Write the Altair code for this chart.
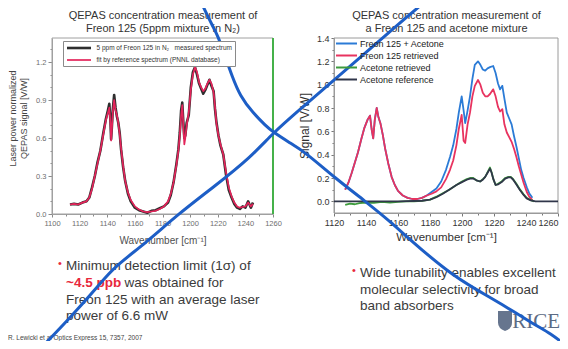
import altair as alt
import pandas as pd

FONT = "Liberation Sans"
W, H = 552, 333

# ---------------- left chart: Freon 125 (5 ppm in N2) ----------------
left_w = [1113, 1116, 1119, 1122, 1125, 1127, 1129, 1131, 1133, 1135, 1137, 1139, 1140.5, 1141.5, 1142.3,
          1142.8, 1143.3, 1144, 1145, 1146, 1147, 1148, 1149, 1150, 1151.5, 1153, 1155, 1157, 1160, 1163,
          1166, 1169, 1172, 1175, 1178, 1181, 1184, 1186, 1188, 1190, 1191.5, 1192.5, 1193.5, 1194.3, 1195,
          1195.8, 1196.5, 1197.5, 1199, 1200.5, 1202, 1203.5, 1205, 1206.5, 1208, 1209.5, 1211, 1212.5, 1214,
          1215.5, 1217, 1218, 1219, 1220.5, 1222, 1224, 1226, 1228, 1230, 1232, 1234, 1236, 1238, 1240, 1242,
          1244, 1245.5]
left_fit = [0.075, 0.08, 0.075, 0.09, 0.10, 0.13, 0.20, 0.30, 0.40, 0.50, 0.62, 0.74, 0.80, 0.84, 0.72,
            0.58, 0.66, 0.80, 0.90, 0.82, 0.78, 0.72, 0.63, 0.52, 0.38, 0.26, 0.17, 0.11, 0.06, 0.035,
            0.02, 0.015, 0.02, 0.025, 0.04, 0.06, 0.10, 0.16, 0.25, 0.38, 0.50, 0.62, 0.78, 0.86, 0.72,
            0.55, 0.60, 0.70, 0.80, 0.98, 1.10, 1.16, 1.12, 1.04, 1.00, 0.97, 0.99, 1.03, 1.06, 1.03,
            0.96, 0.85, 0.72, 0.62, 0.55, 0.47, 0.33, 0.21, 0.14, 0.09, 0.06, 0.05, 0.055, 0.06, 0.09,
            0.06, 0.08]
left_meas = [0.075, 0.08, 0.075, 0.09, 0.10, 0.13, 0.21, 0.30, 0.41, 0.50, 0.63, 0.75, 0.82, 0.87, 0.74,
             0.59, 0.68, 0.82, 0.94, 0.84, 0.77, 0.72, 0.64, 0.51, 0.37, 0.26, 0.16, 0.10, 0.05, 0.03,
             0.02, 0.01, 0.025, 0.03, 0.045, 0.06, 0.09, 0.15, 0.25, 0.39, 0.51, 0.64, 0.82, 0.88, 0.74,
             0.60, 0.62, 0.72, 0.78, 1.00, 1.12, 1.16, 1.10, 1.03, 0.99, 0.95, 0.98, 1.02, 1.06, 1.01,
             0.97, 0.83, 0.73, 0.62, 0.54, 0.47, 0.31, 0.19, 0.13, 0.08, 0.05, 0.04, 0.06, 0.05, 0.10,
             0.05, 0.09]
left_series = ["5 ppm of Freon 125 in N\u2082\u00a0\u00a0\u00a0measured spectrum",
               "fit by reference spectrum (PNNL database)"]
left_colors = ["#2e2e2e", "#e3245a"]
left_x_domain = [1100, 1260]
left_y_domain = [0, 1.39]
left_x_ticks = [1100, 1120, 1140, 1160, 1180, 1200, 1220, 1240, 1260]
left_x_minor = [1110, 1130, 1150, 1170, 1190, 1210, 1230, 1250]
left_y_ticks = [0.0, 0.3, 0.6, 0.9, 1.2]
left_y_minor = [0.1, 0.2, 0.4, 0.5, 0.7, 0.8, 1.0, 1.1, 1.3]
left_title = ["QEPAS concentration measurement of", "Freon 125 (5ppm mixture in N\u2082)"]
left_y_title = ["Laser power normalized", "QEPAS signal [V/W]"]

# ---------------- right chart: Freon 125 + acetone ----------------
right_fa_w = [1127, 1129, 1131, 1133, 1135, 1137, 1139, 1141, 1142.5, 1143.5, 1144.5, 1145.5, 1146.7, 1147.8,
              1149, 1150.5, 1152, 1154, 1156, 1158, 1160, 1163, 1166, 1169, 1172, 1175, 1178, 1181, 1184,
              1187, 1190, 1192.5, 1194.5, 1196.5, 1198, 1199.8, 1201, 1202, 1203.5, 1205, 1206.5, 1208, 1210,
              1211.5, 1213, 1214.5, 1216, 1217.5, 1219.5, 1221, 1222.5, 1223.8, 1225.2, 1226.5, 1228, 1229.5,
              1231, 1232.5, 1234, 1235.5, 1237, 1238.5, 1240.5, 1242, 1244]
right_mix = [0.10, 0.16, 0.24, 0.33, 0.42, 0.53, 0.63, 0.70, 0.735, 0.62, 0.54, 0.70, 0.80, 0.72, 0.67,
             0.57, 0.45, 0.32, 0.21, 0.14, 0.09, 0.05, 0.03, 0.02, 0.02, 0.03, 0.05, 0.08, 0.11, 0.17,
             0.27, 0.38, 0.48, 0.62, 0.76, 0.90, 0.78, 0.67, 0.78, 0.90, 1.05, 1.17, 1.20, 1.17, 1.13,
             1.12, 1.14, 1.15, 1.16, 1.10, 1.01, 0.96, 0.99, 0.88, 0.76, 0.71, 0.66, 0.56, 0.47, 0.37,
             0.27, 0.20, 0.12, 0.07, 0.03]
right_freon = [0.10, 0.16, 0.24, 0.33, 0.42, 0.53, 0.63, 0.70, 0.735, 0.62, 0.54, 0.70, 0.80, 0.72, 0.67,
               0.57, 0.45, 0.32, 0.21, 0.14, 0.09, 0.05, 0.03, 0.02, 0.02, 0.03, 0.05, 0.065, 0.085, 0.12,
               0.19, 0.27, 0.35, 0.48, 0.62, 0.74, 0.52, 0.50, 0.66, 0.76, 0.90, 0.99, 1.04, 1.00, 0.93,
               0.90, 0.90, 0.92, 0.96, 0.90, 0.81, 0.77, 0.79, 0.66, 0.59, 0.55, 0.51, 0.45, 0.38, 0.30,
               0.23, 0.16, 0.08, 0.04, 0.01]
right_acr_w = [1127, 1130, 1133, 1136, 1140, 1145, 1150, 1155, 1160, 1165, 1170, 1175, 1180, 1184, 1188,
               1192, 1196.5, 1200, 1203, 1205, 1207, 1209, 1211.3, 1213, 1214.5, 1216, 1217.5, 1218.5, 1219.6,
               1221, 1222.5, 1224.8, 1227, 1229, 1230.5, 1232, 1234, 1236.3, 1238.5, 1240.4, 1243, 1245]
right_acetone_ret = [-0.03, -0.02, -0.025, -0.015, -0.01, -0.012, -0.005, -0.01, -0.004, 0.0, 0.0, 0.005,
                     0.015, 0.04, 0.07, 0.10, 0.14, 0.17, 0.19, 0.20, 0.20, 0.18, 0.17, 0.19, 0.21, 0.25,
                     0.29, 0.25, 0.19, 0.14, 0.15, 0.17, 0.20, 0.21, 0.21, 0.19, 0.15, 0.10, 0.06, 0.03,
                     0.01, 0.0]
right_ref_w = [1120, 1127, 1140, 1160, 1175, 1180, 1184, 1188, 1192, 1196.5, 1200, 1203, 1205, 1207, 1209,
               1211.3, 1213, 1214.5, 1216, 1217.5, 1218.5, 1219.6, 1221, 1222.5, 1224.8, 1227, 1229, 1230.5,
               1232, 1234, 1236.3, 1238.5, 1240.4, 1243, 1246, 1250, 1260]
right_acetone_ref = [0.0, 0.0, 0.0, 0.0, 0.005, 0.015, 0.035, 0.065, 0.10, 0.14, 0.165, 0.185, 0.195, 0.195,
                     0.18, 0.17, 0.185, 0.21, 0.245, 0.28, 0.245, 0.19, 0.14, 0.145, 0.165, 0.195, 0.205,
                     0.205, 0.185, 0.145, 0.095, 0.055, 0.025, 0.008, 0.0, 0.0, 0.0]
right_series = ["Freon 125 + Acetone", "Freon 125 retrieved", "Acetone retrieved", "Acetone reference"]
right_colors = ["#2b7bd6", "#e8335f", "#3d9b3d", "#30364a"]
right_x_domain = [1120, 1260]
right_y_domain = [-0.1, 1.4]
right_x_ticks = [1120, 1140, 1160, 1180, 1200, 1220, 1240, 1260]
right_x_minor = [1130, 1150, 1170, 1190, 1210, 1230, 1250]
right_y_ticks = [0.0, 0.2, 0.4, 0.6, 0.8, 1.0, 1.2, 1.4]
right_y_minor = [0.1, 0.3, 0.5, 0.7, 0.9, 1.1, 1.3]
right_title = ["QEPAS concentration measurement of", "a Freon 125 and acetone mixture"]
right_y_title = "Signal [V/W]"
x_title = "Wavenumber [cm\u207b\u00b9]"

# ---------------- slide text ----------------
left_bullet_line1 = "Minimum detection limit (1\u03c3) of"
left_bullet_red = "~4.5 ppb"
left_bullet_line2 = "was obtained for"
left_bullet_rest = ["Freon 125 with an average laser", "power of 6.6 mW"]
right_bullet = ["Wide tunability enables excellent", "molecular selectivity for broad", "band absorbers"]
citation = "R. Lewicki et al Optics Express 15, 7357, 2007"
logo_text = "RICE"

# ---------------- hand-drawn blue strokes (slide pixel coordinates) ----------------
stroke_a_x = [200, 213, 218, 225, 232, 240, 253, 266, 273, 290, 305, 335, 365, 392, 408, 449, 477, 500, 535, 550, 568]
stroke_a_y = [0, 27, 36, 56, 76, 96, 113, 126, 132, 143, 152, 178, 201, 223, 238, 273, 290, 303, 325, 333, 347]
stroke_b_x = [40, 70, 100, 113, 147, 177, 215, 251, 273, 297, 327, 362, 395, 427]
stroke_b_y = [349, 318, 284, 268, 242, 215, 186, 157, 133, 112, 86, 56, 27, 0]
slide_size = [568, 349]

# ---------------- tables ----------------
left_df = pd.concat([
    pd.DataFrame({"w": left_w, "v": left_meas, "series": left_series[0]}),
    pd.DataFrame({"w": left_w, "v": left_fit, "series": left_series[1]}),
])
right_df = pd.concat([
    pd.DataFrame({"w": right_fa_w, "v": right_mix, "series": right_series[0]}),
    pd.DataFrame({"w": right_fa_w, "v": right_freon, "series": right_series[1]}),
    pd.DataFrame({"w": right_acr_w, "v": right_acetone_ret, "series": right_series[2]}),
    pd.DataFrame({"w": right_ref_w, "v": right_acetone_ref, "series": right_series[3]}),
])
left_frame_df = pd.DataFrame({"x0": [left_x_domain[0]], "x1": [left_x_domain[1]],
                              "y0": [left_y_domain[0]], "y1": [left_y_domain[1]]})
right_frame_df = pd.DataFrame({"x0": [right_x_domain[0]], "x1": [right_x_domain[1]],
                               "y0": [right_y_domain[0]], "y1": [right_y_domain[1]]})
strokes_df = pd.concat([
    pd.DataFrame({"sx": stroke_a_x, "sy": stroke_a_y, "stroke": "a", "idx": range(len(stroke_a_x))}),
    pd.DataFrame({"sx": stroke_b_x, "sy": stroke_b_y, "stroke": "b", "idx": range(len(stroke_b_x))}),
])

# ---------------- scales (placement of each panel on the slide) ----------------
lxs = alt.Scale(domain=left_x_domain, range=[44, 265], nice=False, zero=False)
lys = alt.Scale(domain=left_y_domain, range=[206, 30], nice=False, zero=False)
rxs = alt.Scale(domain=right_x_domain, range=[326, 550], nice=False, zero=False)
rys = alt.Scale(domain=right_y_domain, range=[205, 30], nice=False, zero=False)
sxs = alt.Scale(domain=[0, slide_size[0]], range=[-8, slide_size[0] - 8], nice=False, zero=False)
sys_ = alt.Scale(domain=[0, slide_size[1]], range=[-8, slide_size[1] - 8], nice=False, zero=False)

# ---------------- left panel ----------------
left_frame = alt.Chart(left_frame_df).mark_rect(fillOpacity=0, stroke="#a0a0a0", strokeWidth=1).encode(
    x=alt.X("x0:Q", scale=lxs, axis=alt.Axis(orient="top", offset=-30, labels=False, ticks=False, domain=False,
                                               grid=False, title=left_title, titleFontSize=11,
                                               titleFontWeight="normal", titleColor="#333333",
                                               titlePadding=5, titleLineHeight=12.5, minExtent=0)),
    x2="x1:Q",
    y=alt.Y("y0:Q", scale=lys, axis=alt.Axis(orient="left", offset=-44, values=left_y_minor, labels=False,
                                              tickSize=2, tickColor="#8a8a8a", domain=False, grid=False,
                                              title=None, minExtent=0)),
    y2="y1:Q",
)

left_lines = alt.Chart(left_df).mark_line(strokeJoin="round").encode(
    x=alt.X("w:Q", scale=lxs, axis=alt.Axis(orient="bottom", offset=-127, values=left_x_ticks, format="d",
                                             labelFontSize=7.5, labelColor="#6e6e6e", labelPadding=2,
                                             labelFlush=False, tickSize=3, tickColor="#8a8a8a",
                                             domainColor="#a0a0a0", grid=False, title=x_title,
                                             titleFontSize=10, titleFontWeight="normal", titleColor="#505050",
                                             titlePadding=9, minExtent=0)),
    y=alt.Y("v:Q", scale=lys, axis=alt.Axis(orient="left", offset=-44, values=left_y_ticks, format=".1f",
                                             labelFontSize=7.5, labelColor="#6e6e6e", labelPadding=2,
                                             tickSize=4, tickColor="#8a8a8a", domainColor="#a0a0a0",
                                             grid=False, title=left_y_title, titleFontSize=9,
                                             titleFontWeight="normal", titleColor="#444444", titlePadding=7,
                                             titleLineHeight=11, titleY=110, minExtent=0)),
    color=alt.Color("series:N", scale=alt.Scale(domain=left_series, range=left_colors),
                    legend=alt.Legend(orient="none", legendX=55, legendY=33, title=None, direction="vertical",
                                      labelFontSize=6.5, labelColor="#333333", labelLimit=400,
                                      symbolType="M-1,0H7", symbolSize=36, symbolStrokeWidth=2,
                                      rowPadding=2.5, padding=2.5, labelOffset=22, strokeColor="#8a8a8a",
                                      fillColor="white")),
    strokeWidth=alt.StrokeWidth("series:N", scale=alt.Scale(domain=left_series, range=[2.6, 1.7]), legend=None),
)

left_green = alt.Chart(left_frame_df).mark_rule(color="#45b14a", strokeWidth=2).encode(
    x=alt.X("x1:Q", scale=lxs, axis=alt.Axis(orient="bottom", offset=-127, values=left_x_minor, labels=False,
                                              tickSize=2, tickColor="#8a8a8a", domain=False, grid=False,
                                              title=None, minExtent=0)),
    y=alt.Y("y0:Q", scale=lys, axis=None),
    y2="y1:Q",
)

# ---------------- right panel ----------------
right_frame = alt.Chart(right_frame_df).mark_rect(fillOpacity=0, stroke="#9a9a9a", strokeWidth=1).encode(
    x=alt.X("x0:Q", scale=rxs, axis=alt.Axis(orient="top", offset=-30, labels=False, ticks=False, domain=False,
                                              grid=False, title=right_title, titleFontSize=11,
                                              titleFontWeight="normal", titleColor="#333333",
                                              titlePadding=5, titleLineHeight=12.5, minExtent=0)),
    x2="x1:Q",
    y=alt.Y("y0:Q", scale=rys, axis=alt.Axis(orient="left", offset=-326, values=right_y_minor, labels=False,
                                              tickSize=2, tickColor="#777777", domain=False, grid=False,
                                              title=None, minExtent=0)),
    y2="y1:Q",
)

right_minor = alt.Chart(right_frame_df).mark_rect(fillOpacity=0, strokeOpacity=0).encode(
    x=alt.X("x0:Q", scale=rxs, axis=alt.Axis(orient="bottom", offset=-128, values=right_x_minor, labels=False,
                                              tickSize=2, tickColor="#777777", domain=False, grid=False,
                                              title=None, minExtent=0)),
    x2="x1:Q",
    y=alt.Y("y0:Q", scale=rys, axis=None),
    y2="y1:Q",
)

right_lines = alt.Chart(right_df).mark_line(strokeWidth=1.8, strokeJoin="round").encode(
    x=alt.X("w:Q", scale=rxs, axis=alt.Axis(orient="bottom", offset=-128, values=right_x_ticks, format="d",
                                             labelFontSize=9, labelColor="#333333", labelPadding=2,
                                             labelFlush=False,
                                             labelAlign={"condition": {"test": "datum.value >= 1260",
                                                                       "value": "right"},
                                                         "value": "center"},
                                             tickSize=3, tickColor="#777777",
                                             domainColor="#9a9a9a", grid=False, title=x_title,
                                             titleFontSize=11.5, titleFontWeight="normal", titleColor="#333333",
                                             titlePadding=4, minExtent=0)),
    y=alt.Y("v:Q", scale=rys, axis=alt.Axis(orient="left", offset=-326, values=right_y_ticks, format=".1f",
                                             labelFontSize=9, labelColor="#333333", labelPadding=2,
                                             tickSize=3, tickColor="#777777", domainColor="#9a9a9a",
                                             grid=False, title=right_y_title, titleFontSize=12,
                                             titleFontWeight="normal", titleColor="#333333", titlePadding=5,
                                             minExtent=0)),
    color=alt.Color("series:N", scale=alt.Scale(domain=right_series, range=right_colors),
                    legend=alt.Legend(orient="none", legendX=327, legendY=31, title=None, direction="vertical",
                                      labelFontSize=9, labelColor="#222222", labelLimit=400,
                                      symbolType="M-1,0H5", symbolSize=49, symbolStrokeWidth=2,
                                      rowPadding=2, padding=0, labelOffset=16)),
)

# ---------------- slide text ----------------
one = alt.Data(values=[{}])


def txt(text, x, y, size=13.5, color="#3b3b3b", weight="normal", align="left", font=FONT,
        baseline="middle", line_height=16.7):
    return alt.Chart(one).mark_text(text=text, fontSize=size, color=color, fontWeight=weight, align=align,
                                    baseline=baseline, font=font, lineHeight=line_height).encode(
        x=alt.value(x), y=alt.value(y))


texts = [
    txt("\u2022", 50, 256, size=11, color="#e8283c"),
    txt(left_bullet_line1, 58, 258),
    txt(left_bullet_red, 58, 275, color="#e8283c", weight="bold"),
    txt(left_bullet_line2, 116.5, 275),
    txt(left_bullet_rest, 58, 291.5),
    txt("\u2022", 344, 263, size=11, color="#e8283c"),
    txt(right_bullet, 352, 265),
    txt(citation, 0, 333, size=6.5, color="#444444", baseline="bottom"),
    txt(logo_text, 552, 314, size=21, color="#5c6b84", align="right", font="Liberation Serif"),
]

shield = alt.Chart(one).mark_point(
    shape="M-0.7,-1L0.7,-1L0.7,0.15Q0.7,0.75 0,1Q-0.7,0.75 -0.7,0.15Z",
    filled=True, size=400, color="#66758e", opacity=1).encode(x=alt.value(497), y=alt.value(313))

blue = alt.Chart(strokes_df).mark_line(color="#1d5ec6", strokeWidth=3, interpolate="basis",
                                       strokeCap="round").encode(
    x=alt.X("sx:Q", scale=sxs, axis=None),
    y=alt.Y("sy:Q", scale=sys_, axis=None),
    detail="stroke:N",
    order="idx:Q",
)

chart = alt.layer(
    left_frame, left_lines, left_green, right_frame, right_minor, right_lines, *texts, shield, blue
).resolve_scale(
    x="independent", y="independent", color="independent", strokeWidth="independent"
).properties(
    width=W, height=H, padding=0, autosize=alt.AutoSizeParams(type="none")
).configure(
    font=FONT, view=alt.ViewConfig(strokeWidth=0)
)

chart.save("out.html", embed_options={"renderer": "svg", "actions": False})
